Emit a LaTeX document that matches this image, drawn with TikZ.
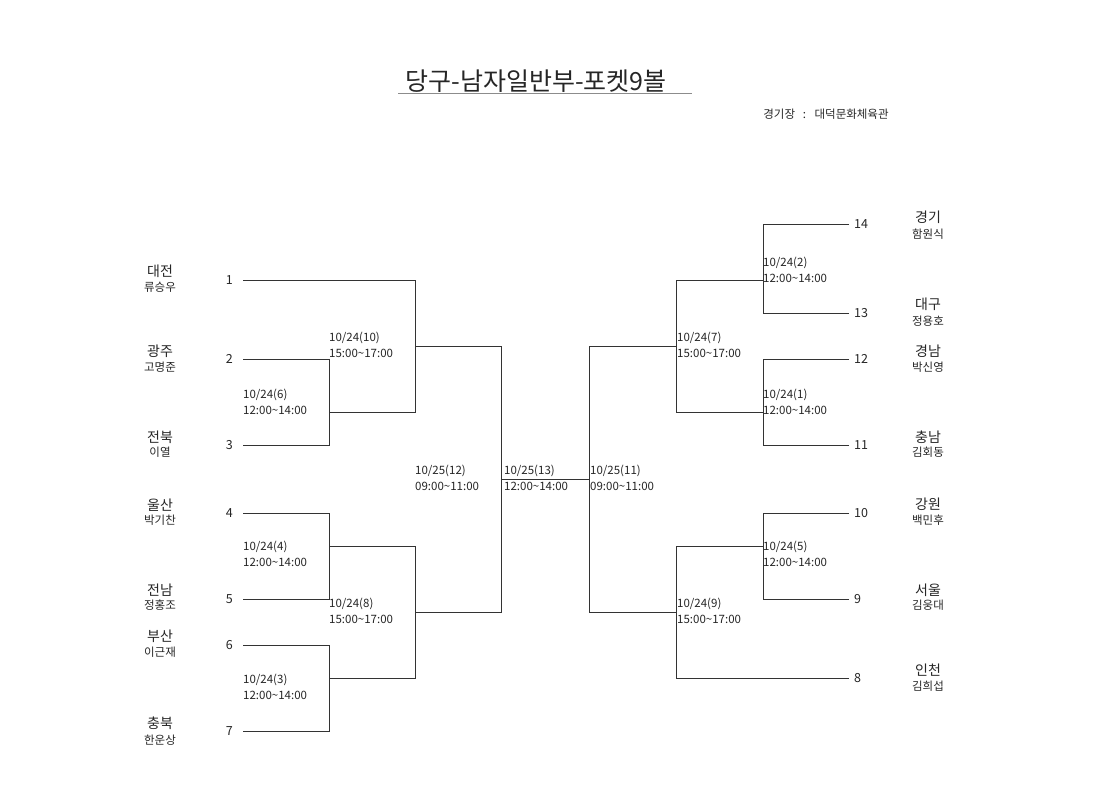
\documentclass[tikz,border=0pt]{standalone}
\usepackage{fontspec}
\setmainfont{Noto Sans CJK KR}
\usetikzlibrary{positioning}

\begin{document}
\begin{tikzpicture}[
      x=1pt, y=-1pt,
      bracket/.style={draw=black!80, line width=0.8pt},
      seed/.style={inner sep=5pt, font=\fontsize{12.5}{15}\selectfont, text=black!85},
      seedleft/.style={seed, anchor=east, inner xsep=10pt},
      seedright/.style={seed, anchor=west},
      team/.style={inner sep=0pt, font=\fontsize{14}{16}\selectfont, text=black!85},
      player/.style={inner sep=0pt, font=\fontsize{11.5}{13}\selectfont, text=black!85},
      matchinfo/.style={
        inner sep=2pt,
        anchor=west,
        align=left,
        font=\fontsize{11.5}{16.5}\selectfont,
        text=black!85
      }
    ]
    \useasboundingbox[fill=white] (0,0) rectangle (1120,791);

    % Title and venue
    \node[font=\fontsize{25}{28}\selectfont, text=black!85] (title) at (536,81) {당구-남자일반부-포켓9볼};
    \draw[black!45, line width=1pt] (398,94) -- (692,94);
    \node[font=\fontsize{11.5}{13}\selectfont, text=black!85] (venue) at (826,114) {경기장 \ \ : \ \ 대덕문화체육관};

    % Left seeds
    \node[seedleft] (e1) at (243,280) {1};
    \node[seedleft] (e2) at (243,359) {2};
    \node[seedleft] (e3) at (243,445) {3};
    \node[seedleft] (e4) at (243,513) {4};
    \node[seedleft] (e5) at (243,599) {5};
    \node[seedleft] (e6) at (243,645) {6};
    \node[seedleft] (e7) at (243,731) {7};

    % Right seeds
    \node[seedright] (e14) at (849,224) {14};
    \node[seedright] (e13) at (849,313) {13};
    \node[seedright] (e12) at (849,359) {12};
    \node[seedright] (e11) at (849,445) {11};
    \node[seedright] (e10) at (849,513) {10};
    \node[seedright] (e9) at (849,599) {9};
    \node[seedright] (e8) at (849,678) {8};

    % Teams and players, left
    \node[team] (t1) at (160,271) {대전};   \node[player] (p1) at (160,287) {류승우};
    \node[team] (t2) at (160,351) {광주};   \node[player] (p2) at (160,367) {고명준};
    \node[team] (t3) at (160,437) {전북};   \node[player] (p3) at (160,452) {이열};
    \node[team] (t4) at (160,505) {울산};   \node[player] (p4) at (160,520) {박기찬};
    \node[team] (t5) at (160,590) {전남};   \node[player] (p5) at (160,605) {정홍조};
    \node[team] (t6) at (160,636) {부산};   \node[player] (p6) at (160,652) {이근재};
    \node[team] (t7) at (160,723) {충북};   \node[player] (p7) at (160,740) {한운상};

    % Teams and players, right
    \node[team] (t14) at (928,217) {경기};  \node[player] (p14) at (928,234) {함원식};
    \node[team] (t13) at (928,304) {대구};  \node[player] (p13) at (928,321) {정용호};
    \node[team] (t12) at (928,351) {경남};  \node[player] (p12) at (928,367) {박신영};
    \node[team] (t11) at (928,437) {충남};  \node[player] (p11) at (928,452) {김회동};
    \node[team] (t10) at (928,504) {강원};  \node[player] (p10) at (928,520) {백민후};
    \node[team] (t9) at (928,590) {서울};   \node[player] (p9) at (928,605) {김웅대};
    \node[team] (t8) at (928,670) {인천};   \node[player] (p8) at (928,686) {김희섭};

    % Match junctions
    \coordinate (m6) at (329,412);
    \coordinate (m4) at (329,546);
    \coordinate (m3) at (329,678);
    \coordinate (m10) at (415,346);
    \coordinate (m8) at (415,612);
    \coordinate (m12) at (501,479);
    \coordinate (m11) at (589,479);
    \coordinate (m7) at (676,346);
    \coordinate (m9) at (676,612);
    \coordinate (m2) at (763,280);
    \coordinate (m1) at (763,412);
    \coordinate (m5) at (763,546);

    % Left bracket
    \draw[bracket] (e2.east) -| (m6);
    \draw[bracket] (e3.east) -| (m6);
    \draw[bracket] (e4.east) -| (m4);
    \draw[bracket] (e5.east) -| (m4);
    \draw[bracket] (e6.east) -| (m3);
    \draw[bracket] (e7.east) -| (m3);
    \draw[bracket] (e1.east) -| (m10);
    \draw[bracket] (m6) -| (m10);
    \draw[bracket] (m4) -| (m8);
    \draw[bracket] (m3) -| (m8);
    \draw[bracket] (m10) -| (m12);
    \draw[bracket] (m8) -| (m12);

    % Final
    \draw[bracket] (m12) -- (m11);

    % Right bracket
    \draw[bracket] (e14.west) -| (m2);
    \draw[bracket] (e13.west) -| (m2);
    \draw[bracket] (e12.west) -| (m1);
    \draw[bracket] (e11.west) -| (m1);
    \draw[bracket] (e10.west) -| (m5);
    \draw[bracket] (e9.west) -| (m5);
    \draw[bracket] (e8.west) -| (m9);
    \draw[bracket] (m2) -| (m7);
    \draw[bracket] (m1) -| (m7);
    \draw[bracket] (m5) -| (m9);
    \draw[bracket] (m7) -| (m11);
    \draw[bracket] (m9) -| (m11);

    % Match dates and times
    \node[matchinfo] (i6) at (241,402) {10/24(6)\\12:00\textasciitilde14:00};
    \node[matchinfo] (i4) at (241,554) {10/24(4)\\12:00\textasciitilde14:00};
    \node[matchinfo] (i3) at (241,687) {10/24(3)\\12:00\textasciitilde14:00};
    \node[matchinfo] (i10) at (327,345) {10/24(10)\\15:00\textasciitilde17:00};
    \node[matchinfo] (i8) at (327,611) {10/24(8)\\15:00\textasciitilde17:00};
    \node[matchinfo] (i12) at (413,478) {10/25(12)\\09:00\textasciitilde11:00};
    \node[matchinfo] (i13) at (502,478) {10/25(13)\\12:00\textasciitilde14:00};
    \node[matchinfo] (i11) at (588,478) {10/25(11)\\09:00\textasciitilde11:00};
    \node[matchinfo] (i7) at (675,345) {10/24(7)\\15:00\textasciitilde17:00};
    \node[matchinfo] (i9) at (675,611) {10/24(9)\\15:00\textasciitilde17:00};
    \node[matchinfo] (i2) at (761,270) {10/24(2)\\12:00\textasciitilde14:00};
    \node[matchinfo] (i1) at (761,402) {10/24(1)\\12:00\textasciitilde14:00};
    \node[matchinfo] (i5) at (761,554) {10/24(5)\\12:00\textasciitilde14:00};

  \end{tikzpicture}
\end{document}
